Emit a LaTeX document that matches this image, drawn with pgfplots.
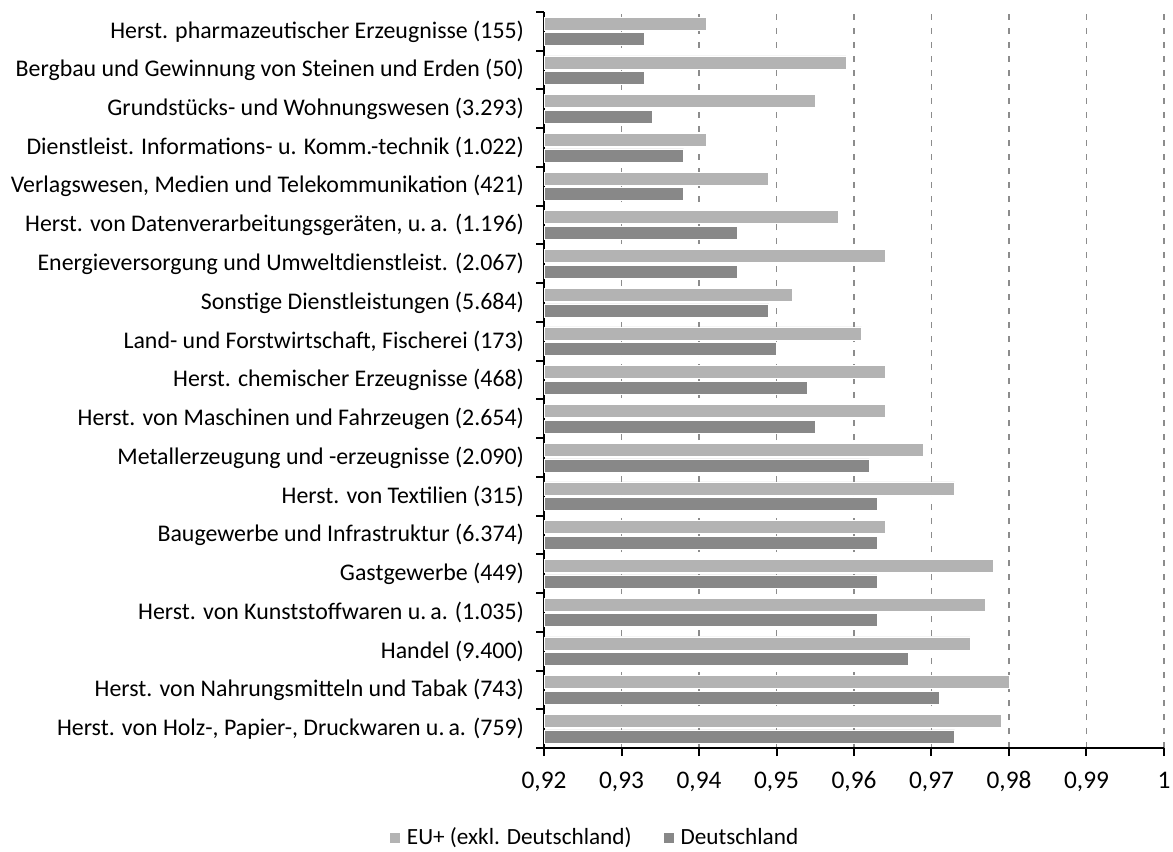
\documentclass[border=0pt]{standalone}
\usepackage{pgfplots}
\pgfplotsset{compat=1.18}
\usepackage{fontspec}
\setmainfont{Carlito}
\definecolor{euplus}{RGB}{179,179,179}
\definecolor{deutsch}{RGB}{136,136,136}
\definecolor{gridgray}{RGB}{140,140,140}

\begin{document}
\begin{tikzpicture}
\path[use as bounding box] (0,0) rectangle (879.75pt,638.25pt);
\begin{axis}[
    at={(408pt,77.25pt)}, anchor=south west,
    width=465pt, height=552pt, scale only axis,
    xbar, bar width=9.75pt,
    xmin=0.92, xmax=1, ymin=-0.5, ymax=18.5,
    axis x line=bottom, axis y line=left,
    axis line style={-, line width=1.5pt, black},
    xtick={0.92,0.93,0.94,0.95,0.96,0.97,0.98,0.99,1},
    xticklabels={{0,92},{0,93},{0,94},{0,95},{0,96},{0,97},{0,98},{0,99},{1}},
    ytick={0,...,18},
    yticklabels={
        {Herst. von Holz-, Papier-, Druckwaren u.\,a. (759)},
        {Herst. von Nahrungsmitteln und Tabak (743)},
        {Handel (9.400)},
        {Herst. von Kunststoffwaren u.\,a. (1.035)},
        {Gastgewerbe (449)},
        {Baugewerbe und Infrastruktur (6.374)},
        {Herst. von Textilien (315)},
        {Metallerzeugung und -erzeugnisse (2.090)},
        {Herst. von Maschinen und Fahrzeugen (2.654)},
        {Herst. chemischer Erzeugnisse (468)},
        {Land- und Forstwirtschaft, Fischerei (173)},
        {Sonstige Dienstleistungen (5.684)},
        {Energieversorgung und Umweltdienstleist. (2.067)},
        {Herst. von Datenverarbeitungsgeräten, u.\,a. (1.196)},
        {Verlagswesen, Medien und Telekommunikation (421)},
        {Dienstleist. Informations- u. Komm.-technik (1.022)},
        {Grundstücks- und Wohnungswesen (3.293)},
        {Bergbau und Gewinnung von Steinen und Erden (50)},
        {Herst. pharmazeutischer Erzeugnisse (155)}
    },
    minor ytick={-0.5,0.5,...,18.5},
    major y tick style={draw=none},
    tick align=outside,
    major tick length=6pt, minor tick length=6pt,
    tick style={line width=1.5pt, black},
    xmajorgrids,
    grid style={dash pattern=on 4.75pt off 5.75pt, line width=1.2pt, gridgray},
    yticklabel style={font=\fontsize{17.9pt}{20pt}\selectfont, xshift=-5.5pt},
    xticklabel style={font=\fontsize{19pt}{22pt}\selectfont, yshift=-7.75pt,
        text height=13pt, text depth=3pt},
    legend style={at={(axis description cs:0.083,-0.123)}, anchor=center,
        draw=none, font=\fontsize{17.4pt}{19pt}\selectfont, legend columns=2,
        nodes={text height=12.5pt, text depth=3.5pt},
        /tikz/every even column/.append style={column sep=22pt}},
    legend image code/.code={\path[#1, draw=none] (0pt,-3.4pt) rectangle (7.8pt,4.4pt);
        \path (10.5pt,0pt);},
]
\addplot[fill=euplus, draw=white, line width=0.4pt, bar shift=5.85pt] coordinates {
    (0.979,0) (0.980,1) (0.975,2) (0.977,3) (0.978,4) (0.964,5) (0.973,6)
    (0.969,7) (0.964,8) (0.964,9) (0.961,10) (0.952,11) (0.964,12) (0.958,13)
    (0.949,14) (0.941,15) (0.955,16) (0.959,17) (0.941,18)};
\addlegendentry{EU+ (exkl. Deutschland)}
\addplot[fill=deutsch, draw=white, line width=0.4pt, bar shift=-5.85pt] coordinates {
    (0.973,0) (0.971,1) (0.967,2) (0.963,3) (0.963,4) (0.963,5) (0.963,6)
    (0.962,7) (0.955,8) (0.954,9) (0.950,10) (0.949,11) (0.945,12) (0.945,13)
    (0.938,14) (0.938,15) (0.934,16) (0.933,17) (0.933,18)};
\addlegendentry{Deutschland}
\end{axis}
\end{tikzpicture}
\end{document}
